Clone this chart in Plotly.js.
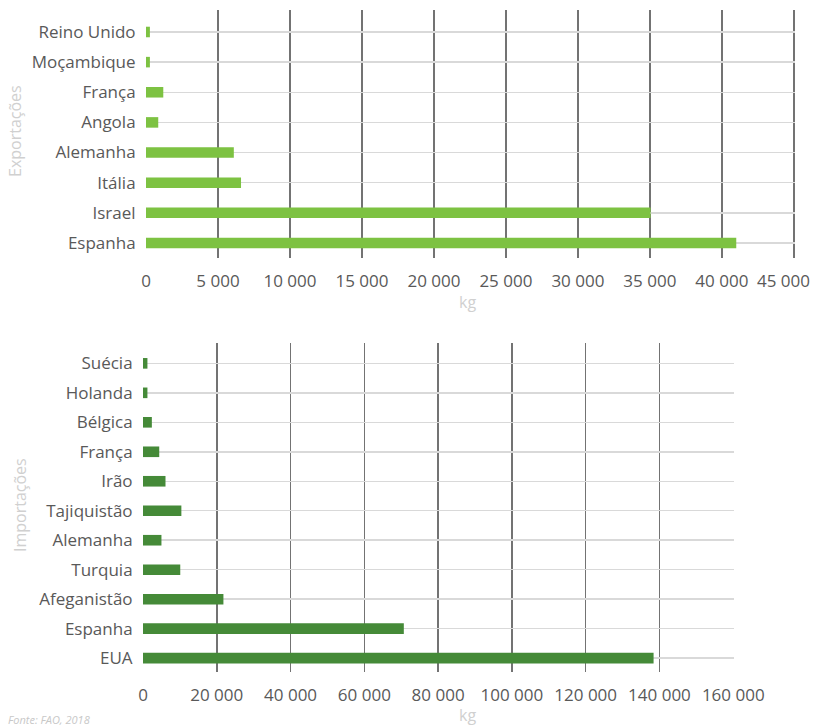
<!DOCTYPE html>
<html>
<head>
<meta charset="utf-8">
<script src="https://cdn.plot.ly/plotly-3.0.1.min.js"></script>
<style>html,body{margin:0;padding:0;background:#fff;}#chart{width:815px;height:726px;}</style>
</head>
<body>
<div id="chart"></div>
<script>
// Exportações (kg)
var expCountries = ["Espanha", "Israel", "Itália", "Alemanha", "Angola", "França", "Moçambique", "Reino Unido"];
var expValues = [41000, 35050, 6600, 6100, 850, 1200, 270, 270];
var expTicks = [0, 5000, 10000, 15000, 20000, 25000, 30000, 35000, 40000, 45000];

// Importações (kg)
var impCountries = ["EUA", "Espanha", "Afeganistão", "Turquia", "Alemanha", "Tajiquistão", "Irão", "França", "Bélgica", "Holanda", "Suécia"];
var impValues = [138400, 70700, 21800, 10100, 5000, 10400, 6100, 4400, 2400, 1200, 1200];
var impTicks = [0, 20000, 40000, 60000, 80000, 100000, 120000, 140000, 160000];

var font = "Open Sans, Noto Sans, sans-serif";
var tickColor = "#595959";
var titleColor = "#d0d0d0";

function fmt(v) { return String(v).replace(/\B(?=(\d{3})+(?!\d))/g, " "); }

var expTickText = expTicks.map(fmt);
var lastExpLabel = expTickText[expTickText.length - 1];
expTickText[expTickText.length - 1] = "";   // drawn as an annotation so it stays inside the page
var impTickText = impTicks.map(fmt);

var traces = [
  {type: "bar", orientation: "h", x: expValues, y: expCountries, xaxis: "x", yaxis: "y",
   marker: {color: "#7dc242"}, width: 0.35, hoverinfo: "x+y"},
  {type: "bar", orientation: "h", x: impValues, y: impCountries, xaxis: "x2", yaxis: "y2",
   marker: {color: "#458a38"}, width: 0.36, hoverinfo: "x+y"}
];

function xax(domain, range, ticks, labels, anchor) {
  return {domain: domain, range: range, anchor: anchor, tickmode: "array", tickvals: ticks, ticktext: labels,
    showgrid: true, gridcolor: "#737373", gridwidth: 1.5, zeroline: false, showline: false,
    ticks: "outside", ticklen: 8, tickcolor: "rgba(0,0,0,0)", ticklabeloverflow: "allow",
    tickfont: {family: font, size: 17, color: tickColor}, fixedrange: true};
}
function yax(domain, range, cats, anchor) {
  return {domain: domain, range: range, anchor: anchor, type: "category", categoryorder: "array",
    categoryarray: cats, showgrid: true, gridcolor: "#d9d9d9", gridwidth: 1.5, zeroline: false,
    showline: false, ticks: "outside", ticklen: 6, tickcolor: "rgba(0,0,0,0)",
    tickfont: {family: font, size: 17, color: tickColor}, fixedrange: true};
}

var layout = {
  width: 815, height: 726,
  margin: {l: 0, r: 0, t: 0, b: 0},
  paper_bgcolor: "#fff", plot_bgcolor: "rgba(0,0,0,0)",
  showlegend: false,
  xaxis: xax([146/815, 795/815], [0, 45080], expTicks, expTickText, "y"),
  yaxis: yax([1 - 258/726, 1 - 10/726], [-0.5, 7.73], expCountries, "x"),
  xaxis2: xax([143/815, 734/815], [0, 160200], impTicks, impTickText, "y2"),
  yaxis2: yax([1 - 672/726, 1 - 343/726], [-0.47, 10.69], impCountries, "x2"),
  annotations: [
    {text: lastExpLabel, xref: "paper", yref: "paper", x: 812/815, y: 1 - 280/726, showarrow: false,
     font: {family: font, size: 17, color: tickColor}, xanchor: "right", yanchor: "middle"},
    {text: "kg", xref: "paper", yref: "paper", x: 467/815, y: 1 - 302/726, showarrow: false,
     font: {family: font, size: 16, color: titleColor}, xanchor: "center", yanchor: "middle"},
    {text: "kg", xref: "paper", yref: "paper", x: 467/815, y: 1 - 715/726, showarrow: false,
     font: {family: font, size: 16, color: titleColor}, xanchor: "center", yanchor: "middle"},
    {text: "Exportações", xref: "paper", yref: "paper", x: 15/815, y: 1 - 131/726, showarrow: false,
     textangle: -90, font: {family: font, size: 16, color: titleColor}, xanchor: "center", yanchor: "middle"},
    {text: "Importações", xref: "paper", yref: "paper", x: 20/815, y: 1 - 505/726, showarrow: false,
     textangle: -90, font: {family: font, size: 16, color: titleColor}, xanchor: "center", yanchor: "middle"},
    {text: "<i>Fonte: FAO, 2018</i>", xref: "paper", yref: "paper", x: 6/815, y: 1 - 719/726, showarrow: false,
     font: {family: font, size: 11, color: "#c8c8c8"}, xanchor: "left", yanchor: "middle"}
  ]
};

Plotly.newPlot("chart", traces, layout, {displayModeBar: false, staticPlot: true});
</script>
</body>
</html>
